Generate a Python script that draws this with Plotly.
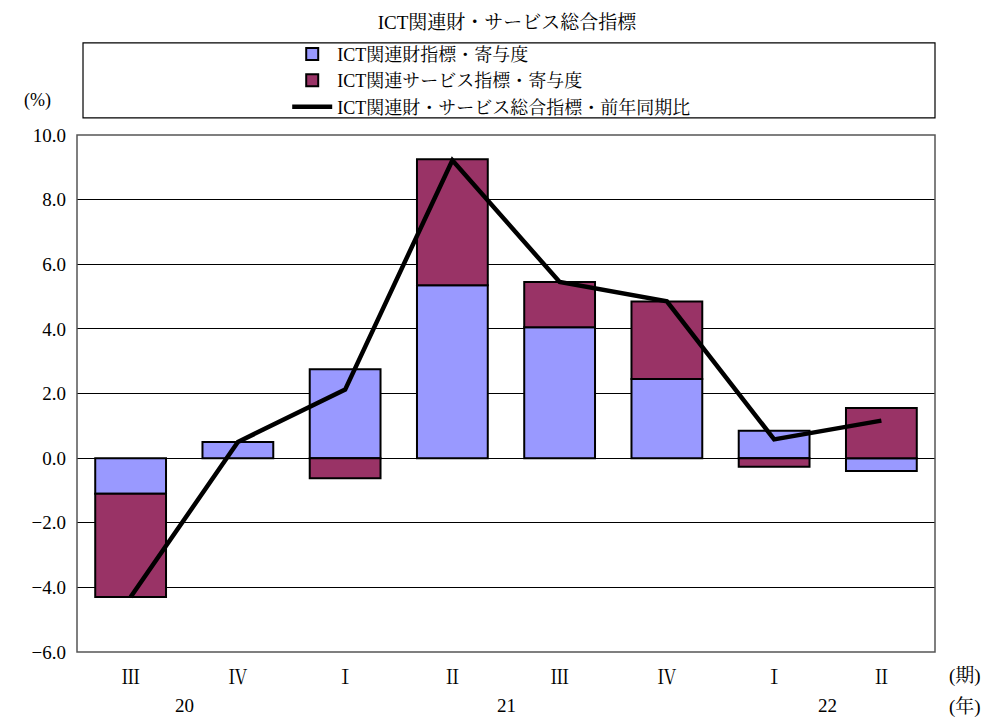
import plotly.graph_objects as go

quarters = ["Ⅲ", "Ⅳ", "Ⅰ", "Ⅱ", "Ⅲ", "Ⅳ", "Ⅰ", "Ⅱ"]
years = ["20", "21", "22"]
year_pos = [0.5, 3.5, 6.5]
goods = [-1.1, 0.5, 2.75, 5.35, 4.05, 2.45, 0.85, -0.4]
services = [-3.2, 0.0, -0.62, 3.9, 1.4, 2.4, -0.27, 1.55]
total = [-4.3, 0.5, 2.12, 9.22, 5.45, 4.85, 0.58, 1.16]
yticks = [10, 8, 6, 4, 2, 0, -2, -4, -6]

x = list(range(len(quarters)))
FONT = "Liberation Serif, Noto Serif CJK JP, Noto Sans CJK JP, serif"

fig = go.Figure()
fig.add_trace(go.Bar(x=x, y=goods, name="ICT関連財指標・寄与度",
                     marker=dict(color="#9999FF", line=dict(color="black", width=2)),
                     width=0.66))
fig.add_trace(go.Bar(x=x, y=services, name="ICT関連サービス指標・寄与度",
                     marker=dict(color="#993366", line=dict(color="black", width=2)),
                     width=0.66))
fig.add_trace(go.Scatter(x=x, y=total, name="ICT関連財・サービス総合指標・前年同期比",
                         mode="lines", line=dict(color="black", width=4.5)))

for yl, yp in zip(years, year_pos):
    fig.add_annotation(x=yp, y=0, xref="x", yref="paper", yshift=-66, text=yl,
                       showarrow=False, font=dict(size=19, family=FONT, color="black"))

fig.add_annotation(x=1.035, y=0, xref="paper", yref="paper", xanchor="center", yshift=-37,
                   text="(期)", showarrow=False, font=dict(size=19, family=FONT, color="black"))
fig.add_annotation(x=1.035, y=0, xref="paper", yref="paper", xanchor="center", yshift=-68,
                   text="(年)", showarrow=False, font=dict(size=19, family=FONT, color="black"))
fig.add_annotation(x=-0.064, y=1.09, xref="paper", yref="paper", xanchor="left", text="(%)",
                   showarrow=False, font=dict(size=18, family=FONT, color="black"))

# legend frame
fig.add_shape(type="rect", xref="paper", yref="paper", x0=0.007, x1=1.0, y0=1.033, y1=1.178,
              line=dict(color="black", width=1.2), fillcolor="rgba(0,0,0,0)")
# plot frame
fig.add_shape(type="rect", xref="paper", yref="paper", x0=0, x1=1, y0=0, y1=1,
              line=dict(color="#555555", width=1.5), fillcolor="rgba(0,0,0,0)")

fig.update_layout(
    width=981, height=710,
    barmode="relative",
    paper_bgcolor="white", plot_bgcolor="white",
    margin=dict(l=69, r=54, t=127, b=66, autoexpand=False),
    title=dict(text="ICT関連財・サービス総合指標", x=0.5087, xanchor="center", y=0.98, yanchor="middle",
               font=dict(size=19, family=FONT, color="black")),
    font=dict(family=FONT, color="black", size=18),
    showlegend=True,
    legend=dict(x=0.245, y=1.192, xanchor="left", yanchor="top", bgcolor="rgba(0,0,0,0)",
                traceorder="normal", font=dict(size=18, family=FONT), itemwidth=40,
                tracegroupgap=0),
    xaxis=dict(tickmode="array", tickvals=x, ticktext=quarters, range=[-0.5, 7.5],
               showgrid=False, zeroline=False, showline=False, ticks="", automargin=False,
               ticklabelstandoff=12, tickfont=dict(size=19, family=FONT)),
    yaxis=dict(range=[-6, 10], tickvals=yticks, tickformat=".1f", showgrid=True,
               gridcolor="black", gridwidth=1, zeroline=True, zerolinecolor="black",
               zerolinewidth=1, showline=False, ticks="", ticklabelstandoff=10, automargin=False,
               tickfont=dict(size=19, family=FONT)),
)

fig.write_html("out.html")
